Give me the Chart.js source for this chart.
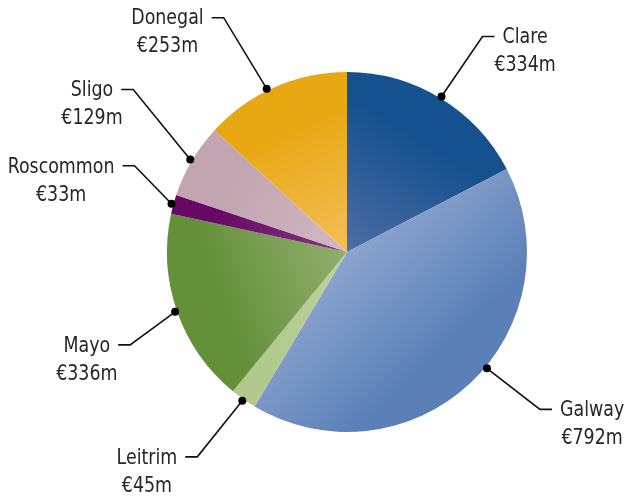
<!DOCTYPE html>
<html>
<head>
<meta charset="utf-8">
<script src="https://cdn.jsdelivr.net/npm/chart.js@4/dist/chart.umd.min.js"></script>
<style>
  html, body { margin: 0; padding: 0; background: #ffffff; }
  #wrap { width: 630px; height: 500px; position: relative; }
</style>
</head>
<body>
<div id="wrap"><canvas id="chart"></canvas></div>
<script>
// counties and spend (€m)
const counties = ["Clare", "Galway", "Leitrim", "Mayo", "Roscommon", "Sligo", "Donegal"];
const spend = [334, 792, 45, 336, 33, 129, 253];
const valueLabels = ["€334m", "€792m", "€45m", "€336m", "€33m", "€129m", "€253m"];

// slice colours: darker at the rim, lighter toward the centre
const outerColors = ["#15518e", "#5b80b8", "#b1c98c", "#64903a", "#680a65", "#c3a4b1", "#e8a814"];
const innerColors = ["#4d6ea4", "#8ba4ce", "#bcd29a", "#93af6e", "#7e3c80", "#d0b9c3", "#f1bf58"];

// where each callout bends, relative to its dot on the rim
const calloutBend = [[41, -60], [53, 41], [-45, 56], [-45, 33], [-37, -38], [-57, -70], [-43, -71]];
const calloutShift = [0, -7, 0, 0, 0, 0, -2.5]; // degrees, nudges the dot along the rim

// condensed look: DejaVu Sans Condensed squeezed a little more
const FONT = '22px "DejaVu Sans Condensed", "DejaVu Sans", sans-serif';
const SQUEEZE = 0.88;

function sliceFill(ctx) {
  const chart = ctx.chart;
  const area = chart.chartArea;
  const i = ctx.dataIndex;
  if (!area) return outerColors[i];
  const total = spend.reduce((a, b) => a + b, 0);
  const before = spend.slice(0, i).reduce((a, b) => a + b, 0);
  const mid = ((before + spend[i] / 2) / total) * Math.PI * 2 - Math.PI / 2;
  const cx = (area.left + area.right) / 2;
  const cy = (area.top + area.bottom) / 2;
  const r = Math.min(area.width, area.height) / 2;
  const g = chart.ctx.createLinearGradient(cx, cy, cx + r * Math.cos(mid), cy + r * Math.sin(mid));
  g.addColorStop(0, innerColors[i]);
  g.addColorStop(0.75, outerColors[i]);
  g.addColorStop(1, outerColors[i]);
  return g;
}

function squeezedText(ctx, text, x, y) {
  ctx.save();
  ctx.translate(x, y);
  ctx.scale(SQUEEZE, 1);
  ctx.fillText(text, 0, 0);
  ctx.restore();
}

const callouts = {
  id: "callouts",
  afterDatasetsDraw(chart) {
    const ctx = chart.ctx;
    const arcs = chart.getDatasetMeta(0).data;
    ctx.save();
    ctx.font = FONT;
    ctx.textBaseline = "middle";
    arcs.forEach((arc, i) => {
      const mid = (arc.startAngle + arc.endAngle) / 2 + calloutShift[i] * Math.PI / 180;
      const rr = arc.outerRadius + 2;
      const dx = arc.x + rr * Math.cos(mid);
      const dy = arc.y + rr * Math.sin(mid);
      const bx = dx + calloutBend[i][0];
      const by = dy + calloutBend[i][1];
      const right = calloutBend[i][0] > 0;
      const ex = right ? bx + 12 : bx - 12;

      ctx.strokeStyle = "#111111";
      ctx.lineWidth = 1.6;
      ctx.beginPath();
      ctx.moveTo(dx, dy);
      ctx.lineTo(bx, by);
      ctx.lineTo(ex, by);
      ctx.stroke();

      ctx.fillStyle = "#000000";
      ctx.beginPath();
      ctx.arc(dx, dy, 4, 0, Math.PI * 2);
      ctx.fill();

      const w1 = ctx.measureText(counties[i]).width * SQUEEZE;
      const x1 = right ? ex + 8 : ex - 8 - w1;
      const centre = x1 + w1 / 2;
      ctx.fillStyle = "#262626";
      ctx.textAlign = "center";
      squeezedText(ctx, counties[i], centre, by + 1);
      squeezedText(ctx, valueLabels[i], centre, by + 29);
    });
    ctx.restore();
  }
};

new Chart(document.getElementById("chart"), {
  type: "pie",
  data: {
    labels: counties,
    datasets: [{
      data: spend,
      backgroundColor: sliceFill,
      borderWidth: 0
    }]
  },
  options: {
    responsive: true,
    maintainAspectRatio: false,
    animation: false,
    layout: { padding: { top: 72, bottom: 68, left: 167, right: 103 } },
    plugins: {
      legend: { display: false },
      tooltip: { enabled: false }
    }
  },
  plugins: [callouts]
});
</script>
</body>
</html>
